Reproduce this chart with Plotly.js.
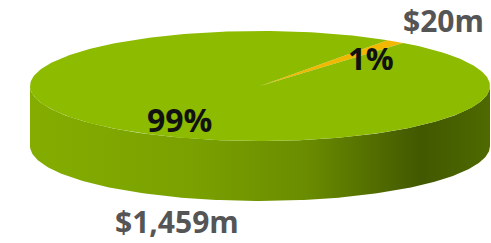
<!DOCTYPE html>
<html><head><meta charset="utf-8">
<script src="https://cdn.plot.ly/plotly-3.0.1.min.js"></script>
<style>html,body{margin:0;padding:0;background:#fff}#c{width:491px;height:243px}</style>
</head><body><div id="c"></div>
<script>
// Data
const categories = ["Other", "Main"];
const values = [20, 1459];            // $m
const valueLabels = ["$20m", "$1,459m"];
const sliceColors = ["#f2b800", "#8cbb00"];

// Geometry (style)
const startDeg = 51.5;   // where first slice begins (ccw from +x)
const depth = 1.09;      // extrusion depth in y units
const total = values.reduce((a, b) => a + b, 0);

function arc(a0, a1, dy) {
  const xs = [], ys = [];
  const n = Math.max(2, Math.ceil(Math.abs(a1 - a0)));
  for (let i = 0; i <= n; i++) {
    const a = (a0 + (a1 - a0) * i / n) * Math.PI / 180;
    xs.push(Math.cos(a)); ys.push(Math.sin(a) + dy);
  }
  return [xs, ys];
}

const traces = [];
// side wall (front half)
{
  const [x1, y1] = arc(180, 360, 0);
  const [x2, y2] = arc(360, 180, -depth);
  traces.push({
    type: "scatter", mode: "lines", x: x1.concat(x2), y: y1.concat(y2),
    fill: "toself", line: {width: 0, color: "rgba(0,0,0,0)"},
    fillgradient: {type: "horizontal", colorscale: [
      [0, "#84ad00"], [0.35, "#7aa100"], [0.6, "#6a8c00"], [0.85, "#425800"], [1, "#4e6a00"]
    ]},
    hoverinfo: "skip"
  });
}
// top slices
let a = startDeg;
values.forEach((v, i) => {
  const sweep = v / total * 360;
  const [xs, ys] = arc(a, a + sweep, 0);
  traces.push({
    type: "scatter", mode: "lines", x: [0].concat(xs, [0]), y: [0].concat(ys, [0]),
    fill: "toself", fillcolor: sliceColors[i], line: {width: 0, color: "rgba(0,0,0,0)"},
    hoverinfo: "skip", name: categories[i]
  });
  a += sweep;
});

const pct = values.map(v => Math.round(v / total * 100) + "%");
const font = "'Open Sans', sans-serif";
const annotations = [
  {x: 0.796, y: 1.2, text: "<b>" + valueLabels[0] + "</b>", font: {size: 30, color: "#555555", family: font}},
  {x: 0.483, y: 0.509, text: "<b>" + pct[0] + "</b>", font: {size: 31, color: "#111111", family: font}},
  {x: -0.352, y: -0.6, text: "<b>" + pct[1] + "</b>", font: {size: 32, color: "#111111", family: font}},
  {x: -0.361, y: -2.46, text: "<b>" + valueLabels[1] + "</b>", font: {size: 30, color: "#555555", family: font}}
].map(o => Object.assign({showarrow: false, xref: "x", yref: "y"}, o));

Plotly.newPlot("c", traces, {
  width: 491, height: 243, margin: {l: 0, r: 0, t: 0, b: 0},
  paper_bgcolor: "#fff", plot_bgcolor: "#fff", showlegend: false,
  xaxis: {range: [-1.1304, 1.0043], visible: false, fixedrange: true},
  yaxis: {range: [-2.8545, 1.5636], visible: false, fixedrange: true},
  annotations
}, {staticPlot: true});
</script></body></html>
